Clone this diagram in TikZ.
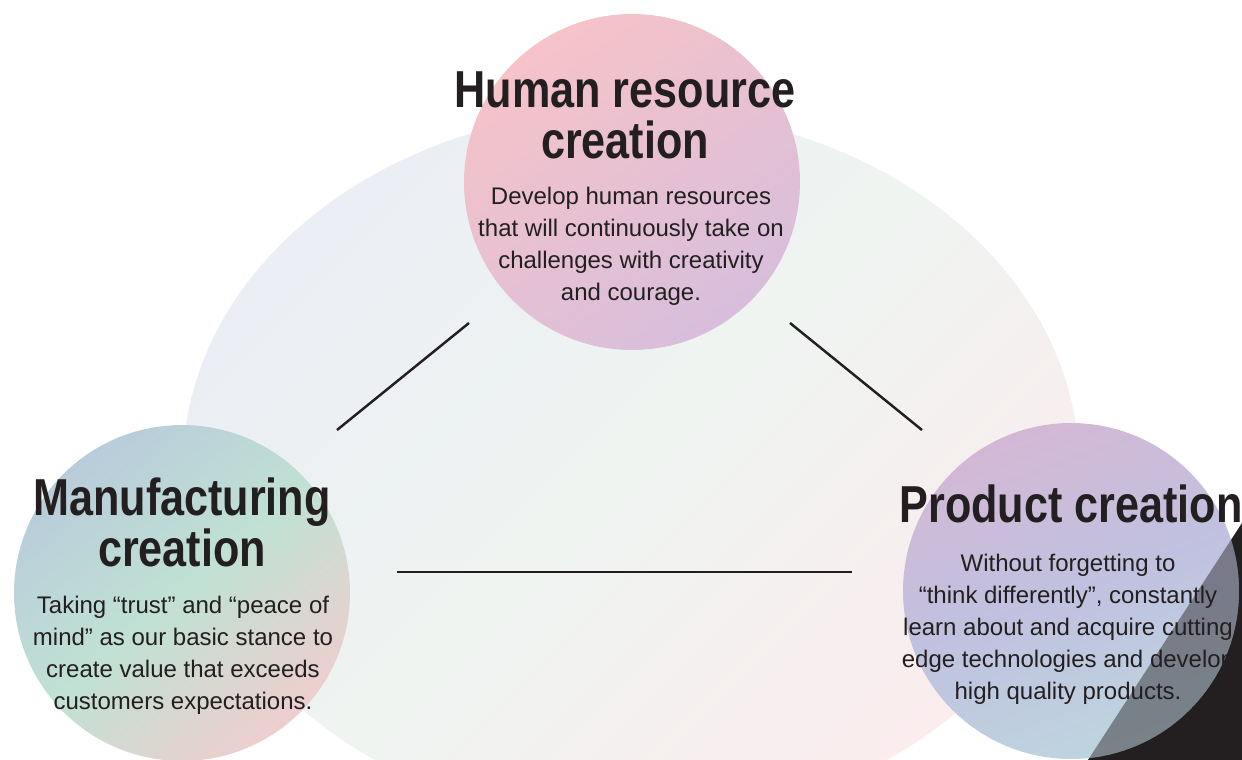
\documentclass[tikz,border=0pt]{standalone}
\usepackage{fontspec}
\setmainfont{Liberation Sans}
\newfontfamily\headfont{Liberation Sans}[FakeStretch=0.83]
\usetikzlibrary{positioning}

\definecolor{ink}{HTML}{231F20}
\definecolor{fieldA}{HTML}{EBEEF4}
\definecolor{fieldB}{HTML}{EFF4F1}
\definecolor{fieldC}{HTML}{FBECEE}
\definecolor{hrA}{HTML}{F6C3C8}
\definecolor{hrB}{HTML}{D8BEDC}
\definecolor{mfA}{HTML}{B9CCDB}
\definecolor{mfB}{HTML}{C0E1D3}
\definecolor{mfC}{HTML}{EECECE}
\definecolor{pcA}{HTML}{D3B8D5}
\definecolor{pcB}{HTML}{C0C1E0}
\definecolor{pcC}{HTML}{BED5DF}

\begin{document}
\begin{tikzpicture}[
        x=0.02cm, y=-0.02cm,
        bubble/.style={circle, minimum size=6.72cm, inner sep=0pt},
        headtext/.style={font=\headfont\bfseries\fontsize{29.6}{29}\selectfont, text=ink, align=center, inner sep=0pt},
        bodytext/.style={font=\fontsize{13.66}{18.2}\selectfont, text=ink, align=center, inner sep=0pt},
        link/.style={draw=ink, line width=1.4pt}
    ]
        \useasboundingbox (0,0) rectangle (1242,760);

        % Background field
        \begin{scope}
            \clip (0,0) rectangle (1242,760);
            \shade[top color=fieldA, bottom color=fieldC, middle color=fieldB, shading angle=45]
                (631,467) ellipse [x radius=448, y radius=357];
            \fill[ink] (1088,760) -- (1242,523) -- (1242,760) -- cycle;
        \end{scope}

        % Circles
        \node[bubble, top color=hrA, bottom color=hrB, shading angle=35] (hr) at (632,182) {};
        \node[bubble, top color=mfA, bottom color=mfC, middle color=mfB, shading angle=40] (mf) at (182,593) {};
        \node[bubble, top color=pcA, bottom color=pcC, middle color=pcB, shading angle=20] (pc) at (1071,591) {};

        \begin{scope}
            \clip (0,0) rectangle (1242,760);
            \clip (pc.center) circle [radius=168];
            \fill[ink, opacity=0.45] (1088,760) -- (1242,523) -- (1242,760) -- cycle;
        \end{scope}

        % Links
        \coordinate (hrmfA) at (337,430);
        \coordinate (hrmfB) at (469,323);
        \coordinate (hrpcA) at (790,323);
        \coordinate (hrpcB) at (922,430);
        \coordinate (mfpcA) at (397,572);
        \coordinate (mfpcB) at (852,572);
        \draw[link] (hrmfA) -- (hrmfB);
        \draw[link] (hrpcA) -- (hrpcB);
        \draw[link] (mfpcA) -- (mfpcB);

        % Texts
        \node[headtext] (hrhead) at (625,115) {Human resource\\creation};
        \node[bodytext] (hrbody) at (631,246) {Develop human resources\\that will continuously take on\\challenges with creativity\\and courage.};

        \node[headtext] (mfhead) at (182,522) {Manufacturing\\creation};
        \node[bodytext] (mfbody) at (183,655) {Taking “trust” and “peace of\\mind” as our basic stance to\\create value that exceeds\\customers expectations.};

        \node[headtext] (pchead) at (1071,504) {Product creation};
        \node[bodytext] (pcbody) at (1068,629) {Without forgetting to\\“think differently”, constantly\\learn about and acquire cutting\\edge technologies and develop\\high quality products.};
    \end{tikzpicture}
\end{document}
